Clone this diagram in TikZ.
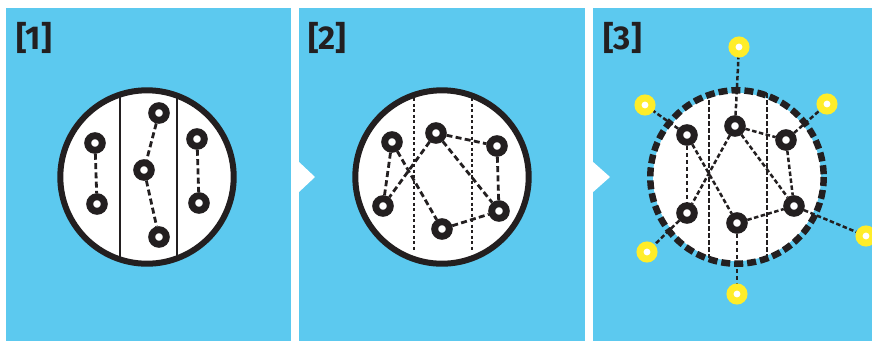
\documentclass[tikz,border=0pt]{standalone}
\usepackage{fontspec}
\setsansfont{Fira Sans}
\usetikzlibrary{positioning, backgrounds}
\definecolor{PanelBlue}{RGB}{92,201,239}
\definecolor{Ink}{RGB}{35,31,32}
\definecolor{PeerYellow}{RGB}{255,237,41}
\tikzset{
  ring/.style={circle,draw=Ink,fill=white,line width=6.9pt,
    minimum size=14.6pt,inner sep=0pt},
  peer/.style={ring,draw=PeerYellow,line width=7pt,minimum size=14pt},
  stage/.style={anchor=north west,inner sep=0pt,text=Ink,
    font=\sffamily\bfseries\fontsize{33}{33}\selectfont},
  link/.style={Ink,line width=2.8pt,dash pattern=on 6pt off 3.3pt},
  finelink/.style={Ink,line width=2.5pt,dash pattern=on 4.5pt off 2.5pt},
  divider/.style={Ink,line width=2.2pt,dash pattern=on 3pt off 2.5pt},
}

\begin{document}
\begin{tikzpicture}[x=1pt,y=-1pt]
        \useasboundingbox (0,0) rectangle (872,341);
        % stage labels
        \node[stage] (t1) at (16,22) {[1]};
        \node[stage] (t2) at (308,22) {[2]};
        \node[stage] (t3) at (603,22) {[3]};
        % disc centres
        \coordinate (c1) at (147,177);
        \coordinate (c2) at (442,177);
        \coordinate (c3) at (737,177);
        % panel 1
        \foreach \n/\x/\y in {a/95/143,b/97/204,c/159/113,d/144/170,
                              e/159/237,f/197/139,g/199/203}{
          \node[ring] (p1\n) at (\x,\y) {};
        }
        % panel 2
        \foreach \n/\x/\y in {a/392/142,b/436/133,c/497/146,d/383/206,
                              e/442/229,f/499/211}{
          \node[ring] (p2\n) at (\x,\y) {};
        }
        % panel 3
        \foreach \n/\x/\y in {a/687/135,b/735/126,c/786/140,d/687/213,
                              e/737/223,f/794/206}{
          \node[ring] (p3\n) at (\x,\y) {};
        }
        \foreach \n/\x/\y in {a/645/105,b/739/47,c/827/104,d/647/252,
                              e/737/294,f/866/236}{
          \node[peer] (q\n) at (\x,\y) {};
        }
        \begin{scope}[on background layer]
          \fill[white] (0,0) rectangle (872,341);
          \fill[PanelBlue] (6,8) rectangle (291,341);
          \fill[PanelBlue] (299,8) rectangle (585,341);
          \fill[PanelBlue] (593,8) rectangle (872,341);
          \fill[white] (298,161) -- (315,177) -- (298,193) -- cycle;
          \fill[white] (592,161) -- (610,177) -- (592,193) -- cycle;
          % disc 1
          \fill[white] (c1) circle (86.7);
          \begin{scope}
            \clip (c1) circle (86.7);
            \draw[Ink,line width=2.2pt] (120,80) -- (120,275);
            \draw[Ink,line width=2.2pt] (177,80) -- (177,275);
          \end{scope}
          \draw[Ink,line width=6pt] (c1) circle (86.7);
          % disc 2
          \fill[white] (c2) circle (86.7);
          \draw[Ink,line width=6pt] (c2) circle (86.7);
          \draw[divider] (414,98) -- (414,250);
          \draw[divider] (472,98) -- (472,250);
          % disc 3
          \fill[white] (c3) circle (84);
          \draw[Ink,line width=6.5pt,dash pattern=on 9pt off 4pt] (c3) circle (86.7);
          \draw[finelink] (709,93) -- (709,258);
          \draw[finelink] (767,93) -- (767,258);
          % links
          \foreach \s/\t in {a/b,c/d,d/e,f/g}{
            \draw[link] (p1\s) -- (p1\t);
          }
          \foreach \s/\t in {a/d,a/e,b/d,b/c,b/f,c/f,e/f}{
            \draw[link] (p2\s) -- (p2\t);
            \draw[finelink] (p3\s) -- (p3\t);
          }
          \foreach \n in {a,b,c,d,e,f}{
            \draw[finelink] (p3\n) -- (q\n);
          }
        \end{scope}
      \end{tikzpicture}
\end{document}
